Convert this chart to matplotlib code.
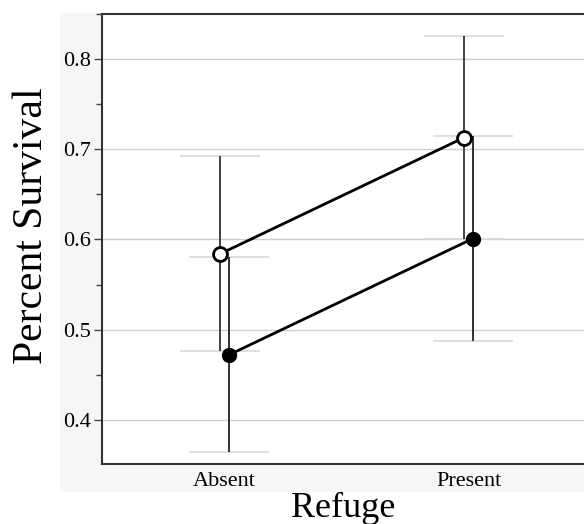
import matplotlib
matplotlib.use("Agg")
import matplotlib.pyplot as plt
from matplotlib.patches import Rectangle
from matplotlib.ticker import MultipleLocator

# data
refuge = ["Absent", "Present"]
open_mean = [0.584, 0.713]
open_err = [0.108, 0.113]
filled_mean = [0.472, 0.601]
filled_err = [0.108, 0.114]

plt.rcParams['font.family'] = ['Liberation Serif', 'DejaVu Serif']

fig = plt.figure(figsize=(5.84, 5.24), dpi=100)
# light grey panel behind the axes and tick labels
bg = Rectangle((0.103, 0.061), 0.897, 0.914, transform=fig.transFigure,
               facecolor='#f6f6f6', edgecolor='none', zorder=-5)
fig.add_artist(bg)
ax = fig.add_axes([0.1747, 0.1145, 0.8253, 0.8588])
ax.set_facecolor('white')

x = list(range(len(refuge)))
off = 0.018
cap = 0.165
xo = [v - off for v in x]
xf = [v + off for v in x]

# grey error caps
for xs, m, e in [(xo, open_mean, open_err), (xf, filled_mean, filled_err)]:
    for xi, mi, ei in zip(xs, m, e):
        ax.hlines([mi - ei, mi + ei], xi - cap, xi + cap, color='#d9d9d9', lw=1.2, zorder=2)

ax.errorbar(xo, open_mean, yerr=open_err, fmt='none', ecolor='#333333', elinewidth=1.3, zorder=3)
ax.errorbar(xf, filled_mean, yerr=filled_err, fmt='none', ecolor='#222222', elinewidth=1.3, zorder=3)

ax.plot(xo, open_mean, '-', color='black', lw=2, marker='o', markersize=10,
        markerfacecolor='white', markeredgecolor='black', markeredgewidth=2, zorder=5)
ax.plot(xf, filled_mean, '-', color='black', lw=2, marker='o', markersize=10,
        markerfacecolor='black', markeredgecolor='black', zorder=5)

ax.set_xlim(-0.502, 1.473)
ax.set_ylim(0.351, 0.85)
ax.set_xticks(x)
ax.set_xticklabels(refuge, fontsize=16)
ax.tick_params(axis='x', length=0, pad=6)
ax.yaxis.set_major_locator(MultipleLocator(0.1))
ax.yaxis.set_minor_locator(MultipleLocator(0.05))
ax.set_yticks([0.4, 0.5, 0.6, 0.7, 0.8])
ax.set_yticklabels(["0.4", "0.5", "0.6", "0.7", "0.8"], fontsize=16)
ax.tick_params(axis='y', which='major', length=6, width=1, color='#444444', pad=2)
ax.tick_params(axis='y', which='minor', length=4, width=1, color='#444444')
ax.grid(axis='y', which='major', color='#cfcfcf', lw=1, zorder=1)
ax.set_axisbelow(True)

for s in ['left', 'bottom', 'top']:
    ax.spines[s].set_color('#333333')
    ax.spines[s].set_linewidth(1.5)
ax.spines['right'].set_visible(False)

ax.set_ylabel("Percent Survival", fontsize=30)
ax.set_xlabel("Refuge", fontsize=26)
ax.yaxis.set_label_coords(-0.105, 0.53)
ax.xaxis.set_label_coords(0.5, -0.062)

fig.savefig("out.png", dpi=100)
